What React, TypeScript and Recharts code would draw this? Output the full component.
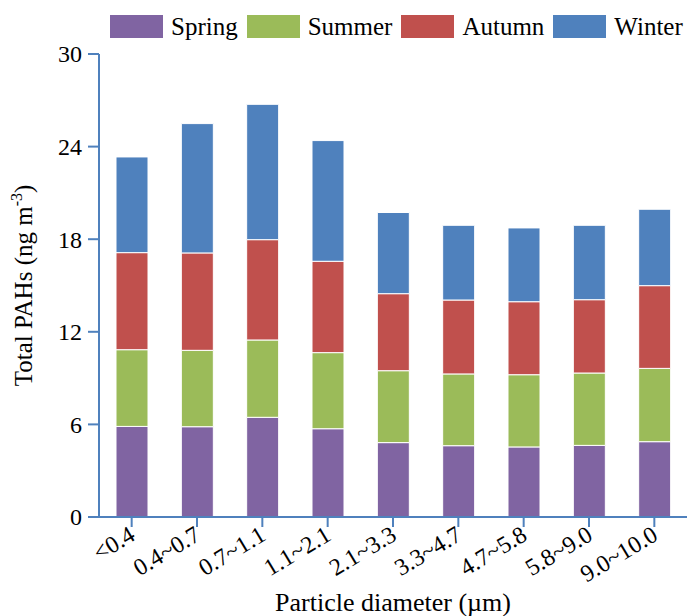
import React from 'react';
import { BarChart, Bar, XAxis, YAxis, Legend, Label } from 'recharts';

const categories = ['<0.4', '0.4~0.7', '0.7~1.1', '1.1~2.1', '2.1~3.3', '3.3~4.7', '4.7~5.8', '5.8~9.0', '9.0~10.0'];
const spring = [5.87, 5.85, 6.46, 5.72, 4.82, 4.62, 4.54, 4.64, 4.88];
const summer = [4.97, 4.95, 5.01, 4.93, 4.66, 4.65, 4.68, 4.69, 4.75];
const autumn = [6.29, 6.31, 6.5, 5.92, 4.99, 4.79, 4.73, 4.75, 5.36];
const winter = [6.2, 8.38, 8.77, 7.82, 5.26, 4.84, 4.78, 4.82, 4.95];
const yTicks = [0, 6, 12, 18, 24, 30];

const seriesNames = ['Spring', 'Summer', 'Autumn', 'Winter'];
const seriesColors = ['#8064A2', '#9BBB59', '#C0504D', '#4F81BD'];

const data = categories.map((c, i) => ({
  cat: c,
  Spring: spring[i],
  Summer: summer[i],
  Autumn: autumn[i],
  Winter: winter[i],
}));

const FONT = "'Liberation Serif', 'Times New Roman', serif";
const AXIS = '#4F81BD';

const XTick = (props: any) => {
  const { x, y, payload } = props;
  const ax = x + 5;
  const ay = y + 10;
  return (
    <text
      x={ax}
      y={ay}
      transform={`rotate(-31, ${ax}, ${ay})`}
      textAnchor="end"
      fontFamily={FONT}
      fontSize={24}
      fill="#000"
    >
      {payload.value}
    </text>
  );
};

const YTick = (props: any) => {
  const { x, y, payload } = props;
  return (
    <text
      x={x}
      y={y}
      dy="0.35em"
      textAnchor="end"
      fontFamily={FONT}
      fontSize={24}
      fill="#000"
    >
      {payload.value}
    </text>
  );
};

const YLabel = (props: any) => {
  const { viewBox } = props;
  const cy = viewBox.y + viewBox.height / 2;
  const cx = 32;
  return (
    <text
      x={cx}
      y={cy}
      transform={`rotate(-90, ${cx}, ${cy})`}
      textAnchor="middle"
      fontFamily={FONT}
      fontSize={25}
      fill="#000"
    >
      <tspan>Total PAHs (ng m</tspan>
      <tspan fontSize={16} dy={-10}>-3</tspan>
      <tspan dy={10}>)</tspan>
    </text>
  );
};

const XLabel = (props: any) => {
  const { viewBox } = props;
  const cx = viewBox.x + viewBox.width / 2;
  return (
    <text x={cx} y={611} textAnchor="middle" fontFamily={FONT} fontSize={26} fill="#000">
      Particle diameter (µm)
    </text>
  );
};

const LegendContent = () => (
  <div style={{ display: 'flex', alignItems: 'center', fontFamily: FONT, fontSize: 25, color: '#000' }}>
    {seriesNames.map((n, i) => (
      <div key={n} style={{ display: 'flex', alignItems: 'center', marginRight: 9 }}>
        <div style={{ width: 53, height: 23, background: seriesColors[i], marginRight: 8 }} />
        <span style={{ lineHeight: '23px' }}>{n}</span>
      </div>
    ))}
  </div>
);

export default function App() {
  return (
    <div style={{ position: 'absolute', left: 0, top: 0, width: 687, height: 616, background: '#fff' }}>
      <BarChart
        width={687}
        height={616}
        data={data}
        margin={{ top: 54, right: 0, left: 0, bottom: 0 }}
        barSize={32}
      >
        <XAxis
          dataKey="cat"
          interval={0}
          height={99}
          axisLine={{ stroke: AXIS, strokeWidth: 2 }}
          tickLine={{ stroke: AXIS, strokeWidth: 2 }}
          tickSize={10}
          tick={<XTick />}
        >
          <Label content={<XLabel />} />
        </XAxis>
        <XAxis
          xAxisId="top"
          dataKey="cat"
          orientation="top"
          height={0}
          tick={false}
          tickLine={false}
          axisLine={{ stroke: AXIS, strokeWidth: 2 }}
        />
        <YAxis
          width={99}
          domain={[0, 30]}
          ticks={yTicks}
          interval={0}
          axisLine={{ stroke: AXIS, strokeWidth: 2 }}
          tickLine={{ stroke: AXIS, strokeWidth: 2 }}
          tickSize={11}
          tickMargin={6}
          tick={<YTick />}
        >
          <Label content={<YLabel />} />
        </YAxis>
        <Legend
          layout="horizontal"
          verticalAlign="middle"
          align="center"
          wrapperStyle={{ top: 15, left: 110, width: 600, height: 23 }}
          content={<LegendContent />}
        />
        {seriesNames.map((n, i) => (
          <Bar
            key={n}
            dataKey={n}
            stackId="a"
            fill={seriesColors[i]}
            stroke="#fff"
            strokeWidth={1}
            isAnimationActive={false}
          />
        ))}
      </BarChart>
    </div>
  );
}
